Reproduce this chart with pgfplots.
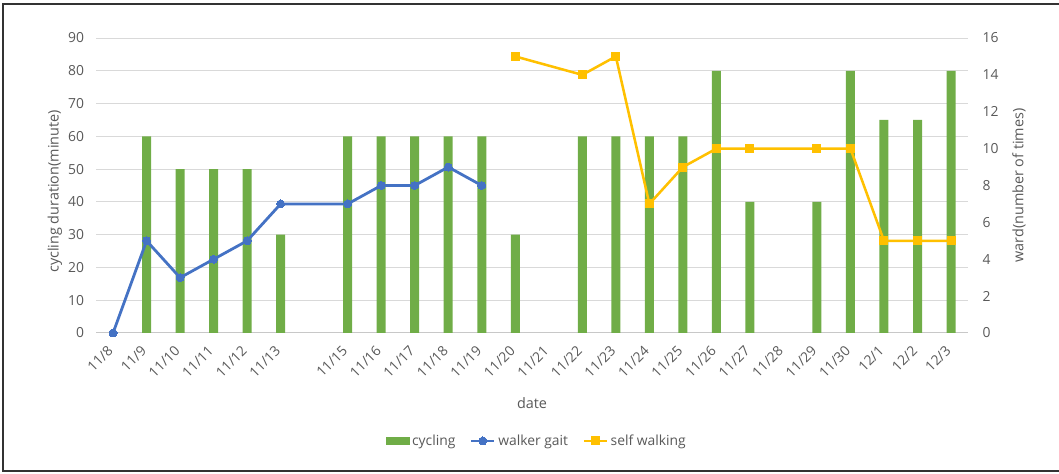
\documentclass[border=0pt]{standalone}
\usepackage{pgfplots}
\pgfplotsset{compat=1.18}
\usepackage{fontspec}
\setmainfont{Open Sans}
\definecolor{txt}{RGB}{89,89,89}
\definecolor{gridc}{RGB}{217,217,217}
\definecolor{axc}{RGB}{200,200,200}
\definecolor{cyc}{RGB}{112,173,71}
\definecolor{walk}{RGB}{68,114,196}
\definecolor{self}{RGB}{255,192,0}
\begin{document}
\begin{tikzpicture}
\useasboundingbox (0pt,0pt) rectangle (794.25pt,355.5pt);
\draw[color=black!80, line width=1.6pt] (797pt,352.5pt) -- (2.25pt,352.5pt) -- (2.25pt,2.25pt) -- (797pt,2.25pt);
\pgfplotsset{
  common/.style={
    at={(72.225pt,105.75pt)}, anchor=south west, scale only axis,
    width=653.6pt, height=221.25pt,
    xmin=-0.5, xmax=25.5,
    major tick length=0pt,
    tick label style={font=\fontsize{10.4}{12}\selectfont, text=txt, inner sep=0pt},
    label style={font=\fontsize{10.8}{12}\selectfont, text=txt},
    /pgf/number format/assume math mode=true,
  }
}
\begin{axis}[common,
  ymin=0, ymax=90, ytick={0,10,...,90},
  ymajorgrids, grid style={color=gridc, line width=0.75pt},
  axis x line*=bottom, axis y line*=left,
  x axis line style={draw=axc, line width=0.75pt, -},
  y axis line style={draw=none},
  xtick={0,...,25},
  xticklabels={11/8,11/9,11/10,11/11,11/12,11/13,{},11/15,11/16,11/17,11/18,11/19,11/20,11/21,11/22,11/23,11/24,11/25,11/26,11/27,11/28,11/29,11/30,12/1,12/2,12/3},
  xticklabel style={xshift=-2pt, yshift=-11.5pt, rotate=45, anchor=east},
  yticklabel style={anchor=east, xshift=-9pt},
  xlabel={date},
  xlabel style={at={(axis description cs:0.5,-0.237)}, anchor=center},
  ylabel={cycling duration(minute)},
  ylabel style={at={(axis description cs:-0.0474,0.48)}, anchor=center},
]
\addplot[ybar, bar width=6.75pt, fill=cyc, draw=none] coordinates {
(1,60) (2,50) (3,50) (4,50) (5,30) (7,60) (8,60) (9,60) (10,60) (11,60)
(12,30) (14,60) (15,60) (16,60) (17,60) (18,80) (19,40) (21,40) (22,80)
(23,65) (24,65) (25,80)};
\end{axis}
\begin{axis}[common,
  ymin=0, ymax=16, ytick={0,2,...,16},
  axis y line*=right, axis x line=none,
  y axis line style={draw=none},
  yticklabel style={anchor=west, xshift=11pt},
  ylabel={ward(number of times)},
  ylabel style={at={(axis description cs:1.0588,0.5)}, anchor=center},
  legend style={at={(axis description cs:0.506,-0.366)}, anchor=center, draw=none,
    font=\fontsize{10.4}{12}\selectfont, text=txt, legend columns=-1,
    /tikz/every even column/.append style={column sep=9pt}},
  legend cell align=left,
]
\addlegendimage{area legend, fill=cyc, draw=cyc}
\addlegendentry{cycling}
\addplot[color=walk, line width=2.1pt, mark=*, mark size=3pt, mark options={fill=walk, draw=walk, line width=0pt}] coordinates {
(0,0) (1,5) (2,3) (3,4) (4,5) (5,7) (7,7) (8,8) (9,8) (10,9) (11,8)};
\addlegendentry{walker gait}
\addplot[color=self, line width=1.9pt, mark=square*, mark size=3pt, mark options={fill=self, draw=self, line width=0pt}] coordinates {
(12,15) (14,14) (15,15) (16,7) (17,9) (18,10) (19,10) (21,10) (22,10) (23,5) (24,5) (25,5)};
\addlegendentry{self walking}
\end{axis}
\end{tikzpicture}
\end{document}
